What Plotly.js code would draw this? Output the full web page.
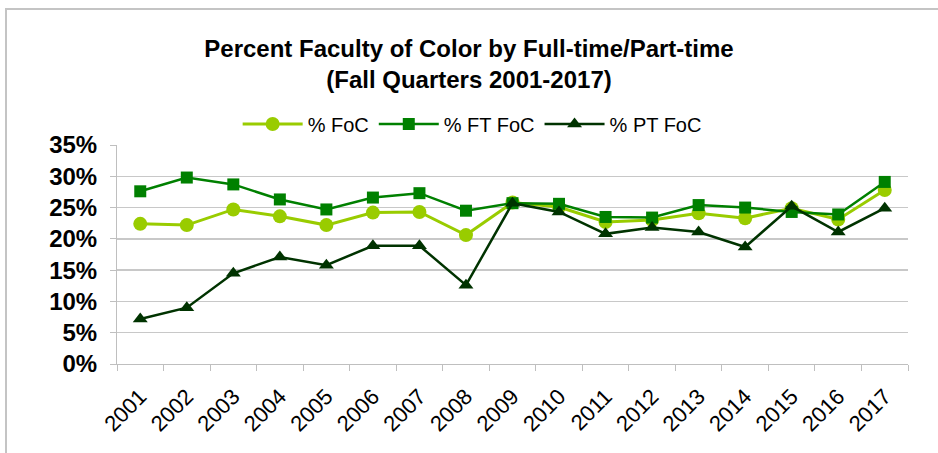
<!DOCTYPE html>
<html>
<head>
<meta charset="utf-8">
<script src="https://cdn.plot.ly/plotly-3.0.1.min.js"></script>
<style>
  html, body { margin:0; padding:0; background:#ffffff; }
  #wrap { position:relative; width:938px; height:453px; }
  #chart { position:absolute; left:0; top:0; width:938px; height:453px; }
  #frame { position:absolute; left:5px; top:8px; width:940px; height:450px;
           border-left:2px solid #c4c4c4; border-top:2px solid #c4c4c4; pointer-events:none; }
</style>
</head>
<body>
<div id="wrap"><div id="chart"></div><div id="frame"></div></div>
<script>
const years = ["2001","2002","2003","2004","2005","2006","2007","2008","2009","2010","2011","2012","2013","2014","2015","2016","2017"];
const pctFoC   = [22.4, 22.2, 24.7, 23.6, 22.2, 24.2, 24.3, 20.6, 25.8, 25.1, 22.7, 23.0, 24.1, 23.3, 24.9, 23.1, 27.8];
const pctFTFoC = [27.6, 29.8, 28.7, 26.3, 24.7, 26.6, 27.3, 24.5, 25.7, 25.6, 23.5, 23.4, 25.4, 25.0, 24.3, 23.9, 29.1];
const pctPTFoC = [7.2, 9.0, 14.5, 17.1, 15.8, 18.9, 18.9, 12.6, 25.7, 24.3, 20.8, 21.8, 21.1, 18.7, 25.2, 21.1, 24.9];
const seriesNames = ["% FoC", "% FT FoC", "% PT FoC"];
const yTicks = [0, 5, 10, 15, 20, 25, 30, 35];

const font = "Liberation Sans, Arial, Helvetica, sans-serif";

const traces = [
  { x: years, y: pctFoC, name: seriesNames[0], type: "scatter", mode: "lines+markers",
    line: { color: "#99CC00", width: 3 },
    marker: { symbol: "circle", size: 14, color: "#99CC00" } },
  { x: years, y: pctFTFoC, name: seriesNames[1], type: "scatter", mode: "lines+markers",
    line: { color: "#008000", width: 2.5 },
    marker: { symbol: "square", size: 12, color: "#008000" } },
  { x: years, y: pctPTFoC, name: seriesNames[2], type: "scatter", mode: "lines+markers",
    line: { color: "#003300", width: 2.5 },
    marker: { symbol: "triangle-up", size: 13, color: "#003300" } }
];

const layout = {
  width: 938, height: 453,
  paper_bgcolor: "rgba(0,0,0,0)",
  plot_bgcolor: "#ffffff",
  margin: { l: 117, r: 30, t: 145, b: 89 },
  font: { family: font, color: "#000000" },
  title: {
    text: "Percent Faculty of Color by Full-time/Part-time<br>(Fall Quarters 2001-2017)",
    font: { family: font, size: 24, weight: "bold", color: "#000000" },
    x: 0.5, xref: "container", xanchor: "center",
    y: 0.875, yref: "container", yanchor: "top"
  },
  showlegend: true,
  legend: {
    orientation: "h", x: 0.449, xanchor: "center", y: 1.096, yanchor: "middle",
    font: { family: font, size: 20, color: "#000000" },
    traceorder: "normal", itemwidth: 60, bgcolor: "rgba(0,0,0,0)"
  },
  xaxis: {
    type: "category",
    range: [-0.5, years.length - 0.5],
    tickangle: -45,
    tickfont: { family: font, size: 22, color: "#000000" },
    ticks: "outside", ticklen: 6, tickcolor: "#bfbfbf", tickwidth: 1,
    tickson: "boundaries",
    ticklabelstandoff: 10,
    showline: true, linecolor: "#bfbfbf", linewidth: 1,
    showgrid: false, zeroline: false,
    fixedrange: true
  },
  yaxis: {
    range: [0, 35],
    tickvals: yTicks,
    ticktext: yTicks.map(v => v + "%"),
    tickfont: { family: font, size: 24, weight: "bold", color: "#000000" },
    ticks: "outside", ticklen: 6, tickcolor: "#bfbfbf",
    ticklabelstandoff: 8,
    showline: true, linecolor: "#bfbfbf", linewidth: 1,
    showgrid: true, gridcolor: "#c8c8c8", gridwidth: 1.5,
    zeroline: false,
    fixedrange: true
  }
};

Plotly.newPlot("chart", traces, layout, { displayModeBar: false, staticPlot: true });
</script>
</body>
</html>
